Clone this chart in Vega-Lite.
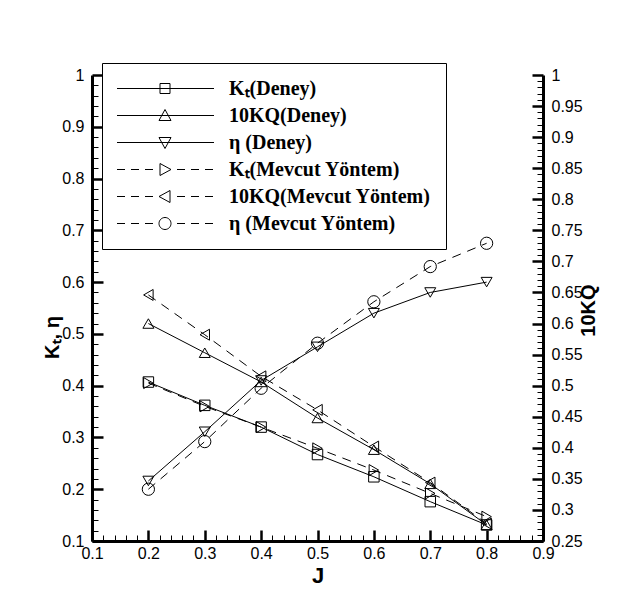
{
  "$schema": "https://vega.github.io/schema/vega-lite/v6.json",
  "width": 451,
  "height": 466,
  "autosize": {"type": "none"},
  "padding": {"left": 92, "top": 75, "right": 78, "bottom": 66},
  "background": "white",
  "config": {
    "view": {"stroke": null},
    "axis": {
      "grid": false,
      "domainColor": "black",
      "domainWidth": 3,
      "tickColor": "black",
      "labelColor": "black",
      "titleColor": "black",
      "labelFont": "Liberation Sans",
      "labelFontSize": 16,
      "titleFont": "Liberation Sans",
      "titleFontSize": 20,
      "titleFontWeight": "bold",
      "labelOverlap": false,
      "labelFlush": false
    }
  },
  "data": {
    "values": [
      {"J": 0.2, "value": 0.407, "series": "KT_D", "label": "Kₜ(Deney)", "method": "Deney", "axis": "left"},
      {"J": 0.3, "value": 0.362, "series": "KT_D", "label": "Kₜ(Deney)", "method": "Deney", "axis": "left"},
      {"J": 0.4, "value": 0.320, "series": "KT_D", "label": "Kₜ(Deney)", "method": "Deney", "axis": "left"},
      {"J": 0.5, "value": 0.267, "series": "KT_D", "label": "Kₜ(Deney)", "method": "Deney", "axis": "left"},
      {"J": 0.6, "value": 0.224, "series": "KT_D", "label": "Kₜ(Deney)", "method": "Deney", "axis": "left"},
      {"J": 0.7, "value": 0.176, "series": "KT_D", "label": "Kₜ(Deney)", "method": "Deney", "axis": "left"},
      {"J": 0.8, "value": 0.131, "series": "KT_D", "label": "Kₜ(Deney)", "method": "Deney", "axis": "left"},
      {"J": 0.2, "value": 0.600, "series": "KQ_D", "label": "10KQ(Deney)", "method": "Deney", "axis": "right"},
      {"J": 0.3, "value": 0.553, "series": "KQ_D", "label": "10KQ(Deney)", "method": "Deney", "axis": "right"},
      {"J": 0.4, "value": 0.506, "series": "KQ_D", "label": "10KQ(Deney)", "method": "Deney", "axis": "right"},
      {"J": 0.5, "value": 0.448, "series": "KQ_D", "label": "10KQ(Deney)", "method": "Deney", "axis": "right"},
      {"J": 0.6, "value": 0.397, "series": "KQ_D", "label": "10KQ(Deney)", "method": "Deney", "axis": "right"},
      {"J": 0.7, "value": 0.342, "series": "KQ_D", "label": "10KQ(Deney)", "method": "Deney", "axis": "right"},
      {"J": 0.8, "value": 0.276, "series": "KQ_D", "label": "10KQ(Deney)", "method": "Deney", "axis": "right"},
      {"J": 0.2, "value": 0.216, "series": "ETA_D", "label": "η (Deney)", "method": "Deney", "axis": "left"},
      {"J": 0.3, "value": 0.311, "series": "ETA_D", "label": "η (Deney)", "method": "Deney", "axis": "left"},
      {"J": 0.4, "value": 0.410, "series": "ETA_D", "label": "η (Deney)", "method": "Deney", "axis": "left"},
      {"J": 0.5, "value": 0.475, "series": "ETA_D", "label": "η (Deney)", "method": "Deney", "axis": "left"},
      {"J": 0.6, "value": 0.540, "series": "ETA_D", "label": "η (Deney)", "method": "Deney", "axis": "left"},
      {"J": 0.7, "value": 0.580, "series": "ETA_D", "label": "η (Deney)", "method": "Deney", "axis": "left"},
      {"J": 0.8, "value": 0.600, "series": "ETA_D", "label": "η (Deney)", "method": "Deney", "axis": "left"},
      {"J": 0.2, "value": 0.405, "series": "KT_M", "label": "Kₜ(Mevcut Yöntem)", "method": "Mevcut", "axis": "left"},
      {"J": 0.3, "value": 0.360, "series": "KT_M", "label": "Kₜ(Mevcut Yöntem)", "method": "Mevcut", "axis": "left"},
      {"J": 0.4, "value": 0.320, "series": "KT_M", "label": "Kₜ(Mevcut Yöntem)", "method": "Mevcut", "axis": "left"},
      {"J": 0.5, "value": 0.279, "series": "KT_M", "label": "Kₜ(Mevcut Yöntem)", "method": "Mevcut", "axis": "left"},
      {"J": 0.6, "value": 0.237, "series": "KT_M", "label": "Kₜ(Mevcut Yöntem)", "method": "Mevcut", "axis": "left"},
      {"J": 0.7, "value": 0.192, "series": "KT_M", "label": "Kₜ(Mevcut Yöntem)", "method": "Mevcut", "axis": "left"},
      {"J": 0.8, "value": 0.147, "series": "KT_M", "label": "Kₜ(Mevcut Yöntem)", "method": "Mevcut", "axis": "left"},
      {"J": 0.2, "value": 0.646, "series": "KQ_M", "label": "10KQ(Mevcut Yöntem)", "method": "Mevcut", "axis": "right"},
      {"J": 0.3, "value": 0.582, "series": "KQ_M", "label": "10KQ(Mevcut Yöntem)", "method": "Mevcut", "axis": "right"},
      {"J": 0.4, "value": 0.515, "series": "KQ_M", "label": "10KQ(Mevcut Yöntem)", "method": "Mevcut", "axis": "right"},
      {"J": 0.5, "value": 0.461, "series": "KQ_M", "label": "10KQ(Mevcut Yöntem)", "method": "Mevcut", "axis": "right"},
      {"J": 0.6, "value": 0.402, "series": "KQ_M", "label": "10KQ(Mevcut Yöntem)", "method": "Mevcut", "axis": "right"},
      {"J": 0.7, "value": 0.344, "series": "KQ_M", "label": "10KQ(Mevcut Yöntem)", "method": "Mevcut", "axis": "right"},
      {"J": 0.8, "value": 0.278, "series": "KQ_M", "label": "10KQ(Mevcut Yöntem)", "method": "Mevcut", "axis": "right"},
      {"J": 0.2, "value": 0.200, "series": "ETA_M", "label": "η (Mevcut Yöntem)", "method": "Mevcut", "axis": "left"},
      {"J": 0.3, "value": 0.292, "series": "ETA_M", "label": "η (Mevcut Yöntem)", "method": "Mevcut", "axis": "left"},
      {"J": 0.4, "value": 0.395, "series": "ETA_M", "label": "η (Mevcut Yöntem)", "method": "Mevcut", "axis": "left"},
      {"J": 0.5, "value": 0.482, "series": "ETA_M", "label": "η (Mevcut Yöntem)", "method": "Mevcut", "axis": "left"},
      {"J": 0.6, "value": 0.562, "series": "ETA_M", "label": "η (Mevcut Yöntem)", "method": "Mevcut", "axis": "left"},
      {"J": 0.7, "value": 0.630, "series": "ETA_M", "label": "η (Mevcut Yöntem)", "method": "Mevcut", "axis": "left"},
      {"J": 0.8, "value": 0.675, "series": "ETA_M", "label": "η (Mevcut Yöntem)", "method": "Mevcut", "axis": "left"}
    ]
  },
  "encoding": {
    "x": {
      "field": "J",
      "type": "quantitative",
      "scale": {"domain": [0.1, 0.9], "nice": false, "zero": false},
      "axis": {
        "title": "J",
        "orient": "bottom",
        "values": [0.1,0.12,0.14,0.16,0.18,0.2,0.22,0.24,0.26,0.28,0.3,0.32,0.34,0.36,0.38,0.4,0.42,0.44,0.46,0.48,0.5,0.52,0.54,0.56,0.58,0.6,0.62,0.64,0.66,0.68,0.7,0.72,0.74,0.76,0.78,0.8,0.82,0.84,0.86,0.88,0.9],
        "labelExpr": "abs(datum.value*10 - round(datum.value*10)) < 0.001 ? format(datum.value, '~g') : ''",
        "tickSize": {"condition": {"test": "abs(datum.value*10 - round(datum.value*10)) < 0.001", "value": -11}, "value": -6},
        "tickWidth": {"condition": {"test": "abs(datum.value*10 - round(datum.value*10)) < 0.001", "value": 2.5}, "value": 1},
        "labelPadding": 15,
        "labelBaseline": "top",
        "titleY": 34,
        "titleBaseline": "middle",
        "titleFontSize": 22
      }
    }
  },
  "layer": [
    {
      "encoding": {
        "y": {
          "field": "value",
          "type": "quantitative",
          "scale": {"domain": [0.1, 1], "nice": false, "zero": false},
          "axis": {
            "title": "Kₜ, η",
            "orient": "left",
            "values": [0.1,0.12,0.14,0.16,0.18,0.2,0.22,0.24,0.26,0.28,0.3,0.32,0.34,0.36,0.38,0.4,0.42,0.44,0.46,0.48,0.5,0.52,0.54,0.56,0.58,0.6,0.62,0.64,0.66,0.68,0.7,0.72,0.74,0.76,0.78,0.8,0.82,0.84,0.86,0.88,0.9,0.92,0.94,0.96,0.98,1],
            "labelExpr": "abs(datum.value*10 - round(datum.value*10)) < 0.001 ? format(datum.value, '~g') : ''",
            "tickSize": {"condition": {"test": "abs(datum.value*10 - round(datum.value*10)) < 0.001", "value": -11}, "value": -6},
            "tickWidth": {"condition": {"test": "abs(datum.value*10 - round(datum.value*10)) < 0.001", "value": 2.5}, "value": 1},
            "labelPadding": 19,
            "labelBaseline": "middle",
            "titleAngle": 270,
            "titleX": -40,
            "titleY": 262,
            "titleAlign": "center",
            "titleBaseline": "middle"
          }
        }
      },
      "layer": [
        {
          "transform": [{"filter": "datum.axis == 'left' && datum.method == 'Deney'"}],
          "mark": {"type": "line", "color": "black", "strokeWidth": 1},
          "encoding": {"detail": {"field": "series", "type": "nominal"}}
        },
        {
          "transform": [{"filter": "datum.axis == 'left' && datum.method == 'Mevcut'"}],
          "mark": {"type": "line", "color": "black", "strokeWidth": 1, "strokeDash": [9, 7]},
          "encoding": {"detail": {"field": "series", "type": "nominal"}}
        },
        {
          "transform": [{"filter": "datum.series == 'KT_D'"}],
          "mark": {"type": "point", "shape": "square", "filled": false, "color": "black", "size": 110, "strokeWidth": 1, "opacity": 1}
        },
        {
          "transform": [{"filter": "datum.series == 'KT_M'"}],
          "mark": {"type": "point", "shape": "triangle-right", "filled": false, "color": "black", "size": 120, "strokeWidth": 1, "opacity": 1}
        },
        {
          "transform": [{"filter": "datum.series == 'ETA_D'"}],
          "mark": {"type": "point", "shape": "triangle-down", "filled": false, "color": "black", "size": 120, "strokeWidth": 1, "opacity": 1}
        },
        {
          "transform": [{"filter": "datum.series == 'ETA_M'"}],
          "mark": {"type": "point", "shape": "circle", "filled": false, "color": "black", "size": 150, "strokeWidth": 1, "opacity": 1}
        },
        {
          "mark": {"type": "point", "filled": false, "color": "black", "opacity": 0},
          "encoding": {
            "shape": {
              "field": "label",
              "type": "nominal",
              "scale": {
                "domain": ["Kₜ(Deney)", "10KQ(Deney)", "η (Deney)", "Kₜ(Mevcut Yöntem)", "10KQ(Mevcut Yöntem)", "η (Mevcut Yöntem)"],
                "range": [
                  "M-1.05,0H8.65M3.25,-0.5H4.25V0.5H3.25Z",
                  "M-1.05,0H8.65M3.75,-0.6L4.35,0.5H3.15Z",
                  "M-1.05,0H8.65M3.75,0.6L4.35,-0.5H3.15Z",
                  "M-1.05,0H-0.25M0.35,0H1.15M1.75,0H2.55M4.95,0H5.75M6.35,0H7.15M7.75,0H8.55M4.35,0L3.25,-0.6V0.6Z",
                  "M-1.05,0H-0.25M0.35,0H1.15M1.75,0H2.55M4.95,0H5.75M6.35,0H7.15M7.75,0H8.55M3.15,0L4.25,-0.6V0.6Z",
                  "M-1.05,0H-0.25M0.35,0H1.15M1.75,0H2.55M4.95,0H5.75M6.35,0H7.15M7.75,0H8.55M4.35,0A0.6,0.6,0,1,1,3.15,0A0.6,0.6,0,1,1,4.35,0Z"
                ]
              },
              "legend": {
                "orient": "none",
                "legendX": 10,
                "legendY": -12,
                "title": null,
                "padding": 15,
                "strokeColor": "black",
                "fillColor": "white",
                "symbolSize": 400,
                "symbolStrokeWidth": 1,
                "symbolStrokeColor": "black",
                "symbolFillColor": "transparent",
                "symbolOpacity": 1,
                "labelFont": "Liberation Serif",
                "labelFontWeight": "bold",
                "labelFontSize": 20,
                "labelColor": "black",
                "labelOffset": 91,
                "labelLimit": 400,
                "rowPadding": 6
              }
            }
          }
        }
      ]
    },
    {
      "encoding": {
        "y": {
          "field": "value",
          "type": "quantitative",
          "scale": {"domain": [0.25, 1], "nice": false, "zero": false},
          "axis": {
            "title": "10KQ",
            "orient": "right",
            "values": [0.25,0.26,0.27,0.28,0.29,0.3,0.31,0.32,0.33,0.34,0.35,0.36,0.37,0.38,0.39,0.4,0.41,0.42,0.43,0.44,0.45,0.46,0.47,0.48,0.49,0.5,0.51,0.52,0.53,0.54,0.55,0.56,0.57,0.58,0.59,0.6,0.61,0.62,0.63,0.64,0.65,0.66,0.67,0.68,0.69,0.7,0.71,0.72,0.73,0.74,0.75,0.76,0.77,0.78,0.79,0.8,0.81,0.82,0.83,0.84,0.85,0.86,0.87,0.88,0.89,0.9,0.91,0.92,0.93,0.94,0.95,0.96,0.97,0.98,0.99,1],
            "labelExpr": "abs(datum.value*20 - round(datum.value*20)) < 0.001 ? format(datum.value, '~g') : ''",
            "tickSize": {"condition": {"test": "abs(datum.value*20 - round(datum.value*20)) < 0.001", "value": -11}, "value": -6},
            "tickWidth": {"condition": {"test": "abs(datum.value*20 - round(datum.value*20)) < 0.001", "value": 2.5}, "value": 1},
            "labelPadding": 19,
            "labelBaseline": "middle",
            "titleAngle": 270,
            "titleX": 45,
            "titleY": 235,
            "titleAlign": "center",
            "titleBaseline": "middle"
          }
        }
      },
      "layer": [
        {
          "transform": [{"filter": "datum.axis == 'right' && datum.method == 'Deney'"}],
          "mark": {"type": "line", "color": "black", "strokeWidth": 1},
          "encoding": {"detail": {"field": "series", "type": "nominal"}}
        },
        {
          "transform": [{"filter": "datum.axis == 'right' && datum.method == 'Mevcut'"}],
          "mark": {"type": "line", "color": "black", "strokeWidth": 1, "strokeDash": [9, 7]},
          "encoding": {"detail": {"field": "series", "type": "nominal"}}
        },
        {
          "transform": [{"filter": "datum.series == 'KQ_D'"}],
          "mark": {"type": "point", "shape": "triangle-up", "filled": false, "color": "black", "size": 120, "strokeWidth": 1, "opacity": 1}
        },
        {
          "transform": [{"filter": "datum.series == 'KQ_M'"}],
          "mark": {"type": "point", "shape": "triangle-left", "filled": false, "color": "black", "size": 120, "strokeWidth": 1, "opacity": 1}
        }
      ]
    }
  ],
  "resolve": {"scale": {"y": "independent"}}
}
